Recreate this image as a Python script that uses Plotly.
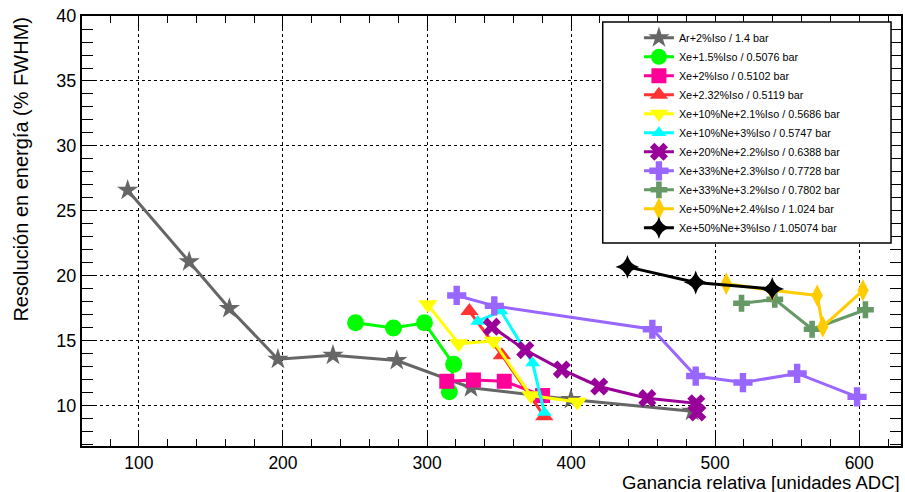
import plotly.graph_objects as go

# ---- data ----
ar_x = [92.2, 134.9, 162.8, 196.5, 234.7, 279.0, 330.5, 399.9, 484.0]
ar_y = [26.6, 21.1, 17.5, 13.6, 13.9, 13.5, 11.4, 10.5, 9.6]

xe15_x = [250.4, 276.7, 298.2, 318.5, 315.5]
xe15_y = [16.4, 16.0, 16.4, 13.2, 11.1]

xe2_x = [313.7, 332.2, 353.6, 380.2]
xe2_y = [11.9, 12.0, 11.9, 10.8]

xe232_x = [329.4, 352.0, 381.4]
xe232_y = [17.3, 13.9, 9.2]

xe10ne21_x = [300.5, 322.0, 346.0, 372.1, 404.4]
xe10ne21_y = [17.8, 14.8, 15.0, 10.8, 10.3]

xe10ne3_x = [335.2, 351.3, 373.3, 381.4]
xe10ne3_y = [16.5, 17.3, 13.3, 9.5]

xe20ne22_x = [345.0, 368.2, 393.6, 419.5, 452.9, 486.9, 487.6]
xe20ne22_y = [16.1, 14.3, 12.8, 11.5, 10.6, 10.2, 9.5]

xe33ne23_x = [320.6, 346.7, 456.4, 486.5, 519.3, 556.9, 598.5]
xe33ne23_y = [18.5, 17.7, 15.9, 12.3, 11.8, 12.5, 10.7]

xe33ne32_x = [518.3, 541.4, 567.3, 604.3]
xe33ne32_y = [17.9, 18.2, 15.9, 17.4]

xe50ne24_x = [507.7, 539.6, 570.8, 574.7, 602.6]
xe50ne24_y = [19.4, 18.9, 18.5, 16.1, 18.9]

xe50ne3_x = [439.1, 486.5, 539.6]
xe50ne3_y = [20.7, 19.5, 19.0]

names = [
    "Ar+2%Iso / 1.4 bar",
    "Xe+1.5%Iso / 0.5076 bar",
    "Xe+2%Iso / 0.5102 bar",
    "Xe+2.32%Iso / 0.5119 bar",
    "Xe+10%Ne+2.1%Iso / 0.5686 bar",
    "Xe+10%Ne+3%Iso / 0.5747 bar",
    "Xe+20%Ne+2.2%Iso / 0.6388 bar",
    "Xe+33%Ne+2.3%Iso / 0.7728 bar",
    "Xe+33%Ne+3.2%Iso / 0.7802 bar",
    "Xe+50%Ne+2.4%Iso / 1.024 bar",
    "Xe+50%Ne+3%Iso / 1.05074 bar",
]

series = [
    (ar_x, ar_y, "#666666", "star", 16),
    (xe15_x, xe15_y, "#00ff00", "circle", 17),
    (xe2_x, xe2_y, "#ff0099", "square", 15),
    (xe232_x, xe232_y, "#ff3333", "triangle-up", 16),
    (xe10ne21_x, xe10ne21_y, "#ffff00", "triangle-down", 17),
    (xe10ne3_x, xe10ne3_y, "#00ffff", "triangle-up", 13),
    (xe20ne22_x, xe20ne22_y, "#990099", "x", 16),
    (xe33ne23_x, xe33ne23_y, "#9966ff", "cross", 16),
    (xe33ne32_x, xe33ne32_y, "#669966", "cross", 14),
    (xe50ne24_x, xe50ne24_y, "#ffcc00", "diamond-tall", 16),
    (xe50ne3_x, xe50ne3_y, "#000000", "star-diamond", 17),
]

fig = go.Figure()
for (xs, ys, col, sym, sz), nm in zip(series, names):
    fig.add_trace(go.Scatter(
        x=xs, y=ys, name=nm, mode="lines+markers",
        line=dict(color=col, width=3),
        marker=dict(color=col, symbol=sym, size=sz, line=dict(width=0)),
    ))

FONT = "Liberation Sans, Arial, sans-serif"

fig.update_layout(
    width=905, height=492,
    margin=dict(l=82, r=2, t=16, b=46),
    paper_bgcolor="white", plot_bgcolor="white",
    font=dict(family=FONT, size=18, color="black"),
    showlegend=True,
    legend=dict(
        x=0.680, y=0.983, xanchor="left", yanchor="top",
        bgcolor="rgba(0,0,0,0)", borderwidth=0,
        font=dict(family=FONT, size=10.8, color="black"),
        tracegroupgap=0, itemsizing="trace",
    ),
)

# legend frame (white box drawn over the data, legend entries sit on top)
fig.add_shape(
    type="rect", xref="paper", yref="paper", layer="above",
    x0=(604 - 82) / 821, x1=(893 - 82) / 821,
    y0=(446 - 243) / 430, y1=(446 - 22) / 430,
    fillcolor="white", line=dict(color="black", width=1.5),
)

fig.update_xaxes(
    range=[60.5, 629], showline=True, linecolor="black", linewidth=2, mirror="ticks",
    ticks="inside", ticklen=14, tickcolor="black", tickwidth=1,
    tickvals=[100, 200, 300, 400, 500, 600],
    showgrid=True, gridcolor="black", griddash="dot", gridwidth=1,
    zeroline=False,
    minor=dict(dtick=20, ticks="inside", ticklen=7, tickcolor="black", showgrid=False),
    tickfont=dict(size=17.5),
)
fig.update_yaxes(
    range=[6.92, 40], showline=True, linecolor="black", linewidth=2, mirror="ticks",
    ticks="inside", ticklen=14, tickcolor="black", tickwidth=1,
    tickvals=[10, 15, 20, 25, 30, 35, 40],
    showgrid=True, gridcolor="black", griddash="dot", gridwidth=1,
    zeroline=False,
    minor=dict(dtick=1, ticks="inside", ticklen=11, tickcolor="black", showgrid=False),
    tickfont=dict(size=18),
)

fig.add_annotation(
    text="Ganancia relativa [unidades ADC]", xref="paper", yref="paper",
    x=1.0, y=-0.085, xanchor="right", yanchor="middle", showarrow=False,
    xshift=1, font=dict(family=FONT, size=18.5),
)
fig.add_annotation(
    text="Resolución en energía (% FWHM)", xref="paper", yref="paper",
    x=-0.074, y=1.003, xanchor="center", yanchor="top", textangle=-90,
    showarrow=False, font=dict(family=FONT, size=20),
)

fig.write_html("out.html")
